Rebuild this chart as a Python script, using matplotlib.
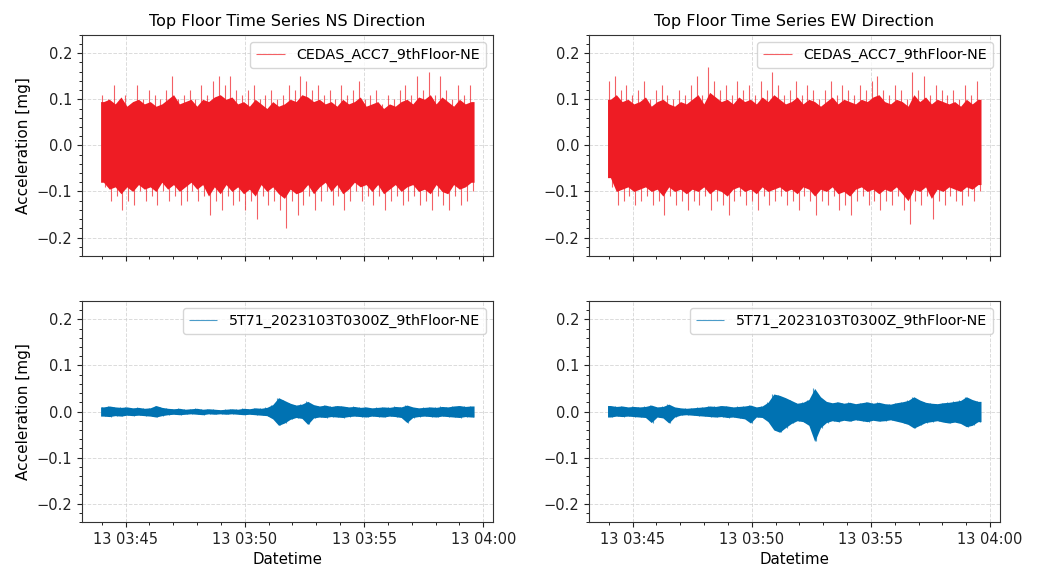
import numpy as np
import matplotlib
matplotlib.use("Agg")
import matplotlib.pyplot as plt
import matplotlib.dates as mdates
from matplotlib.ticker import AutoMinorLocator

# record span (UTC) and titles
t_start = np.datetime64("2023-03-13T03:43:57", "ms")
t_end = np.datetime64("2023-03-13T03:59:37", "ms")
titles = ["Top Floor Time Series NS Direction", "Top Floor Time Series EW Direction"]
label_top = "CEDAS_ACC7_9thFloor-NE"
label_bot = "5T71_2023103T0300Z_9thFloor-NE"

# peak values (mg), 64 windows across the record
ns_top_hi = [0.11, 0.10, 0.13, 0.10, 0.11, 0.09, 0.13, 0.10, 0.12, 0.11, 0.10, 0.12, 0.15, 0.10, 0.11, 0.12,
             0.10, 0.13, 0.11, 0.14, 0.15, 0.13, 0.15, 0.12, 0.11, 0.12, 0.13, 0.10, 0.11, 0.12, 0.10, 0.11,
             0.13, 0.12, 0.15, 0.14, 0.12, 0.13, 0.11, 0.12, 0.10, 0.13, 0.11, 0.12, 0.14, 0.10, 0.11, 0.12,
             0.09, 0.11, 0.10, 0.12, 0.13, 0.11, 0.15, 0.12, 0.16, 0.11, 0.15, 0.12, 0.10, 0.13, 0.11, 0.13]
ns_top_lo = [-0.09, -0.12, -0.11, -0.14, -0.12, -0.13, -0.10, -0.12, -0.11, -0.13, -0.10, -0.12, -0.11, -0.13, -0.12, -0.10,
             -0.12, -0.11, -0.15, -0.12, -0.14, -0.11, -0.13, -0.12, -0.14, -0.12, -0.16, -0.11, -0.13, -0.12, -0.14, -0.18,
             -0.12, -0.15, -0.13, -0.11, -0.14, -0.12, -0.10, -0.13, -0.11, -0.14, -0.12, -0.10, -0.12, -0.11, -0.13, -0.11,
             -0.14, -0.12, -0.11, -0.13, -0.12, -0.11, -0.13, -0.12, -0.14, -0.11, -0.13, -0.14, -0.11, -0.13, -0.12, -0.10]
# edge of the solid part of the red band (mg)
ns_core_hi = [0.095, 0.100, 0.090, 0.105, 0.085, 0.095, 0.100, 0.090, 0.095, 0.085, 0.090, 0.100, 0.110, 0.090, 0.095, 0.100,
              0.085, 0.100, 0.095, 0.105, 0.110, 0.100, 0.105, 0.090, 0.095, 0.085, 0.100, 0.090, 0.080, 0.095, 0.085, 0.090,
              0.100, 0.095, 0.110, 0.105, 0.095, 0.100, 0.090, 0.095, 0.085, 0.100, 0.090, 0.095, 0.105, 0.085, 0.090, 0.095,
              0.080, 0.090, 0.085, 0.095, 0.100, 0.090, 0.105, 0.100, 0.110, 0.090, 0.105, 0.095, 0.085, 0.100, 0.090, 0.095]
ns_core_lo = [-0.080, -0.095, -0.090, -0.105, -0.090, -0.100, -0.085, -0.095, -0.090, -0.100, -0.080, -0.095, -0.085, -0.100, -0.090, -0.080,
              -0.095, -0.085, -0.110, -0.090, -0.105, -0.085, -0.100, -0.090, -0.105, -0.095, -0.110, -0.085, -0.100, -0.090, -0.105, -0.115,
              -0.095, -0.105, -0.100, -0.085, -0.105, -0.090, -0.080, -0.100, -0.085, -0.105, -0.095, -0.080, -0.090, -0.085, -0.100, -0.085,
              -0.105, -0.095, -0.085, -0.100, -0.090, -0.085, -0.100, -0.095, -0.105, -0.085, -0.100, -0.105, -0.085, -0.095, -0.090, -0.080]

ew_top_hi = [0.14, 0.15, 0.12, 0.13, 0.11, 0.12, 0.14, 0.10, 0.12, 0.13, 0.11, 0.10, 0.12, 0.11, 0.13, 0.15,
             0.11, 0.17, 0.14, 0.12, 0.13, 0.11, 0.14, 0.12, 0.13, 0.11, 0.14, 0.12, 0.16, 0.13, 0.11, 0.12,
             0.14, 0.11, 0.13, 0.12, 0.10, 0.12, 0.14, 0.11, 0.13, 0.12, 0.11, 0.13, 0.12, 0.14, 0.15, 0.12,
             0.11, 0.13, 0.12, 0.10, 0.16, 0.12, 0.15, 0.11, 0.13, 0.12, 0.11, 0.12, 0.10, 0.13, 0.11, 0.14]
ew_top_lo = [-0.09, -0.13, -0.12, -0.11, -0.13, -0.12, -0.11, -0.13, -0.12, -0.15, -0.11, -0.13, -0.12, -0.14, -0.12, -0.13,
             -0.11, -0.14, -0.12, -0.13, -0.15, -0.12, -0.11, -0.13, -0.12, -0.14, -0.11, -0.13, -0.12, -0.11, -0.13, -0.12,
             -0.14, -0.11, -0.12, -0.15, -0.12, -0.13, -0.11, -0.14, -0.13, -0.15, -0.12, -0.11, -0.13, -0.12, -0.14, -0.12,
             -0.13, -0.11, -0.14, -0.17, -0.12, -0.13, -0.11, -0.16, -0.12, -0.13, -0.11, -0.12, -0.13, -0.11, -0.12, -0.10]
ew_core_hi = [0.100, 0.110, 0.095, 0.100, 0.090, 0.095, 0.105, 0.085, 0.095, 0.100, 0.090, 0.085, 0.095, 0.090, 0.100, 0.110,
              0.090, 0.115, 0.105, 0.095, 0.100, 0.090, 0.105, 0.095, 0.100, 0.090, 0.105, 0.095, 0.110, 0.100, 0.090, 0.095,
              0.105, 0.090, 0.100, 0.095, 0.085, 0.095, 0.105, 0.090, 0.100, 0.095, 0.090, 0.100, 0.095, 0.105, 0.110, 0.095,
              0.090, 0.100, 0.095, 0.085, 0.110, 0.095, 0.105, 0.090, 0.100, 0.095, 0.090, 0.095, 0.085, 0.100, 0.090, 0.100]
ew_core_lo = [-0.070, -0.100, -0.095, -0.090, -0.100, -0.095, -0.090, -0.100, -0.095, -0.110, -0.090, -0.100, -0.095, -0.105, -0.095, -0.100,
              -0.090, -0.105, -0.095, -0.100, -0.110, -0.095, -0.090, -0.100, -0.095, -0.105, -0.090, -0.100, -0.095, -0.090, -0.100, -0.095,
              -0.105, -0.090, -0.095, -0.110, -0.095, -0.100, -0.090, -0.105, -0.100, -0.110, -0.095, -0.090, -0.100, -0.095, -0.105, -0.095,
              -0.100, -0.090, -0.105, -0.120, -0.095, -0.100, -0.090, -0.115, -0.095, -0.100, -0.090, -0.095, -0.100, -0.090, -0.095, -0.085]

ns_bot_hi = [0.010, 0.012, 0.010, 0.009, 0.010, 0.008, 0.009, 0.007, 0.008, 0.013, 0.009, 0.007, 0.006, 0.007, 0.005, 0.006,
             0.007, 0.005, 0.006, 0.005, 0.004, 0.005, 0.006, 0.005, 0.007, 0.006, 0.008, 0.007, 0.009, 0.015, 0.030, 0.024,
             0.018, 0.014, 0.016, 0.022, 0.015, 0.012, 0.014, 0.011, 0.013, 0.012, 0.010, 0.011, 0.009, 0.010, 0.008, 0.009,
             0.010, 0.009, 0.011, 0.010, 0.014, 0.010, 0.008, 0.009, 0.010, 0.009, 0.011, 0.010, 0.012, 0.013, 0.011, 0.012]
ns_bot_lo = [-0.010, -0.011, -0.009, -0.010, -0.008, -0.009, -0.008, -0.009, -0.010, -0.012, -0.009, -0.007, -0.006, -0.007, -0.006, -0.005,
             -0.006, -0.007, -0.005, -0.006, -0.005, -0.006, -0.005, -0.006, -0.007, -0.006, -0.007, -0.008, -0.009, -0.016, -0.030, -0.025,
             -0.017, -0.013, -0.015, -0.028, -0.014, -0.012, -0.013, -0.011, -0.012, -0.013, -0.011, -0.010, -0.011, -0.012, -0.010, -0.011,
             -0.012, -0.010, -0.011, -0.013, -0.024, -0.013, -0.011, -0.010, -0.011, -0.012, -0.010, -0.011, -0.012, -0.013, -0.011, -0.012]

ew_bot_hi = [0.013, 0.011, 0.012, 0.010, 0.011, 0.010, 0.011, 0.014, 0.010, 0.011, 0.016, 0.010, 0.008, 0.007, 0.008, 0.009,
             0.010, 0.012, 0.011, 0.013, 0.012, 0.010, 0.011, 0.012, 0.014, 0.010, 0.012, 0.020, 0.038, 0.035, 0.030, 0.024,
             0.018, 0.020, 0.026, 0.050, 0.032, 0.022, 0.019, 0.021, 0.018, 0.020, 0.017, 0.019, 0.021, 0.018, 0.020, 0.017,
             0.016, 0.019, 0.021, 0.024, 0.032, 0.025, 0.020, 0.018, 0.017, 0.019, 0.020, 0.022, 0.024, 0.032, 0.026, 0.022]
ew_bot_lo = [-0.012, -0.010, -0.011, -0.010, -0.011, -0.012, -0.013, -0.024, -0.012, -0.014, -0.025, -0.012, -0.008, -0.007, -0.008, -0.009,
             -0.010, -0.011, -0.012, -0.011, -0.013, -0.012, -0.014, -0.016, -0.025, -0.012, -0.013, -0.022, -0.040, -0.045, -0.035, -0.026,
             -0.020, -0.022, -0.030, -0.065, -0.035, -0.024, -0.020, -0.022, -0.019, -0.021, -0.018, -0.020, -0.022, -0.019, -0.021, -0.020,
             -0.018, -0.021, -0.024, -0.028, -0.036, -0.030, -0.024, -0.022, -0.020, -0.023, -0.025, -0.023, -0.026, -0.033, -0.030, -0.022]

red = "#ee1c24"
blue = "#0072b2"


def window_times(n, offset):
    w = (t_end - t_start) / n
    return t_start + (np.arange(n) + offset) * w


plt.rcParams["font.family"] = "DejaVu Sans"
fig, axes = plt.subplots(2, 2, figsize=(10.37, 5.70), dpi=100, sharex=True)
fig.subplots_adjust(left=0.079, right=0.964, top=0.939, bottom=0.084, wspace=0.234, hspace=0.203)

panels = [
    (axes[0, 0], ns_top_hi, ns_top_lo, ns_core_hi, ns_core_lo, red, label_top),
    (axes[0, 1], ew_top_hi, ew_top_lo, ew_core_hi, ew_core_lo, red, label_top),
    (axes[1, 0], ns_bot_hi, ns_bot_lo, ns_bot_hi, ns_bot_lo, blue, label_bot),
    (axes[1, 1], ew_bot_hi, ew_bot_lo, ew_bot_hi, ew_bot_lo, blue, label_bot),
]

for ax, hi, lo, c_hi, c_lo, col, lab in panels:
    n = len(hi)
    # solid band
    tc = window_times(len(c_hi), 0.5)
    tc = np.concatenate([[t_start], tc, [t_end]])
    ax.fill_between(tc, [c_lo[0]] + c_lo + [c_lo[-1]], [c_hi[0]] + c_hi + [c_hi[-1]],
                    color=col, lw=0, zorder=2)
    # spikes beyond the band
    ax.vlines(window_times(n, 0.25), 0, hi, color=col, lw=0.8, alpha=0.7, label=lab, zorder=2)
    ax.vlines(window_times(n, 0.75), lo, 0, color=col, lw=0.8, alpha=0.7, zorder=2)
    ax.set_ylim(-0.24, 0.24)
    ax.set_yticks([-0.2, -0.1, 0.0, 0.1, 0.2])
    ax.yaxis.set_minor_locator(AutoMinorLocator())
    ax.grid(True, which="major", ls="--", color="#cccccc", lw=0.7, alpha=0.7, zorder=1)
    ax.legend(loc="upper right", fontsize=10.3)
    ax.tick_params(labelsize=10.5, colors="#222222")
    for s in ax.spines.values():
        s.set_color("#333333")

ax = axes[1, 0]
ax.xaxis.set_major_locator(mdates.MinuteLocator(byminute=range(0, 60, 5)))
ax.xaxis.set_minor_locator(mdates.MinuteLocator())
ax.xaxis.set_major_formatter(mdates.DateFormatter("%d %H:%M"))
for a in axes[1]:
    a.set_xlabel("Datetime", fontsize=10.8)
for a in axes[:, 0]:
    a.set_ylabel("Acceleration [mg]", fontsize=11)
axes[0, 0].set_title(titles[0], fontsize=11.5)
axes[0, 1].set_title(titles[1], fontsize=11.5)

fig.savefig("out.png", dpi=100)
